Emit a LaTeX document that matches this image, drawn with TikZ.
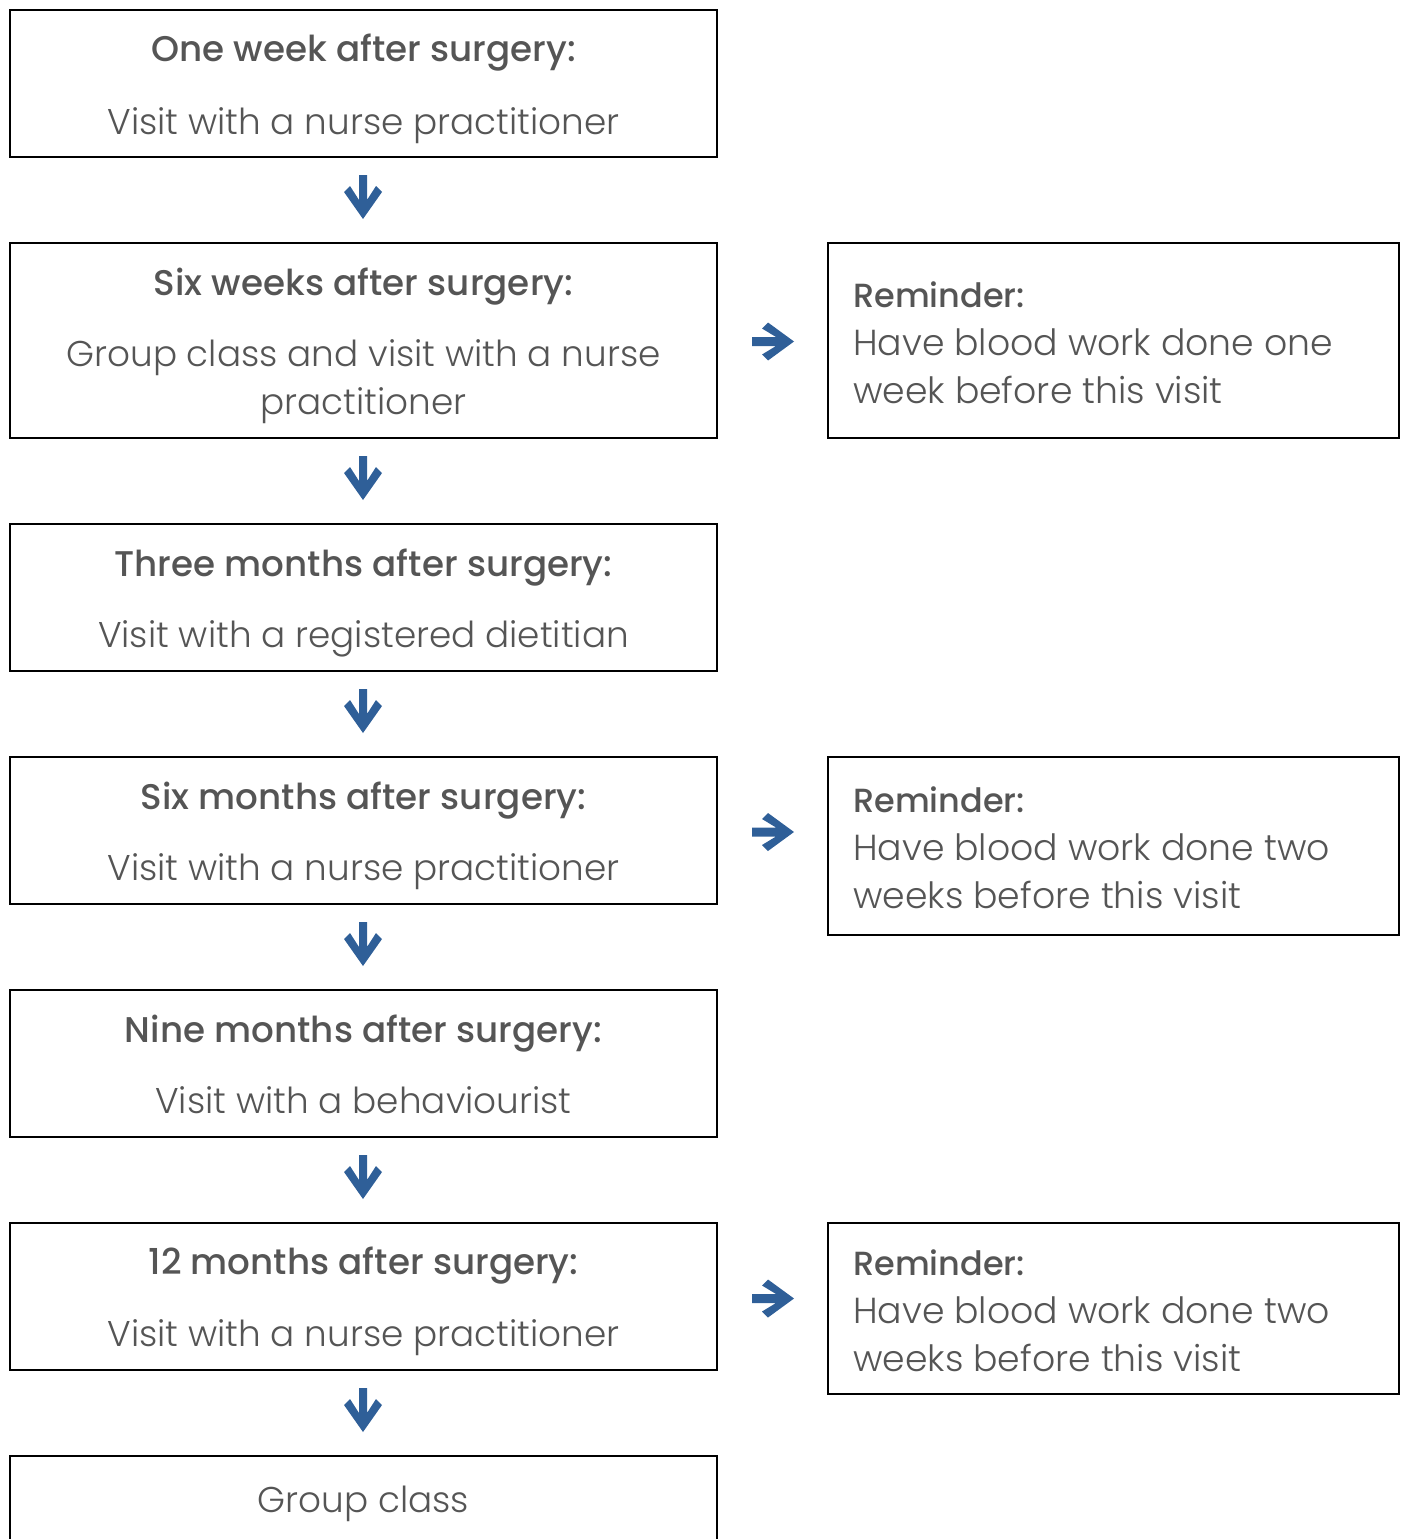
\documentclass[tikz,border=0pt]{standalone}
\usepackage{fontspec}
\setmainfont{Poppins Light}[BoldFont=Poppins Medium]
\definecolor{txt}{HTML}{555555}
\definecolor{arr}{HTML}{2F5F98}
\begin{document}
\begin{tikzpicture}[x=1pt,y=-1pt,
  box/.style={draw=black,line width=1.6pt},
  ttl/.style={anchor=base,text=txt,font=\fontsize{35.7}{42}\selectfont\bfseries,inner sep=0pt},
  sub/.style={anchor=base,text=txt,font=\fontsize{35.8}{42}\selectfont,inner sep=0pt},
  rtl/.style={anchor=base west,text=txt,font=\fontsize{33.5}{40}\selectfont\bfseries,inner sep=0pt},
  rsub/.style={anchor=base west,text=txt,font=\fontsize{36.2}{44}\selectfont,inner sep=0pt},
  arrfill/.style={fill=arr,draw=none}]
\useasboundingbox (0,0) rectangle (1405,1539);
% left boxes
\draw[box] (10,10) rectangle (717,157);
\draw[box] (10,243) rectangle (717,438);
\draw[box] (10,524) rectangle (717,671);
\draw[box] (10,757) rectangle (717,904);
\draw[box] (10,990) rectangle (717,1137);
\draw[box] (10,1223) rectangle (717,1370);
\draw[box] (10,1545) -- (10,1456) -- (717,1456) -- (717,1545);
% right boxes
\draw[box] (828,243) rectangle (1399,438);
\draw[box] (828,757) rectangle (1399,935);
\draw[box] (828,1223) rectangle (1399,1394);
% texts
\node[ttl] (t1) at (363.5,61) {One week after surgery:};
\node[sub] (s1) at (363.5,134) {Visit with a nurse practitioner};
\node[ttl] (t2) at (363.5,295) {Six weeks after surgery:};
\node[sub] (s2a) at (363.5,366) {Group class and visit with a nurse};
\node[sub] (s2b) at (363.5,414) {practitioner};
\node[ttl] (t3) at (363.5,576) {Three months after surgery:};
\node[sub] (s3) at (363.5,647) {Visit with a registered dietitian};
\node[ttl] (t4) at (363.5,809) {Six months after surgery:};
\node[sub] (s4) at (363.5,880) {Visit with a nurse practitioner};
\node[ttl] (t5) at (363.5,1042) {Nine months after surgery:};
\node[sub] (s5) at (363.5,1113) {Visit with a behaviourist};
\node[ttl] (t6) at (363.5,1274) {12 months after surgery:};
\node[sub] (s6) at (363.5,1346) {Visit with a nurse practitioner};
\node[sub] (s7) at (363.5,1512) {Group class};
\node[rtl] (r1) at (853,307) {Reminder:};
\node[rsub] (r1a) at (853,355) {Have blood work done one};
\node[rsub] (r1b) at (853,403) {week before this visit};
\node[rtl] (r2) at (853,812) {Reminder:};
\node[rsub] (r2a) at (853,860) {Have blood work done two};
\node[rsub] (r2b) at (853,908) {weeks before this visit};
\node[rtl] (r3) at (853,1275) {Reminder:};
\node[rsub] (r3a) at (853,1323) {Have blood work done two};
\node[rsub] (r3b) at (853,1371) {weeks before this visit};
% down arrows
\foreach \y in {175,456,689,922,1155,1388}{
  \fill[arrfill] (359,\y) -- (367,\y) -- (367,\y+25) -- (376,\y+11) -- (382,\y+17) -- (363,\y+44) -- (344,\y+17) -- (350,\y+11) -- (359,\y+25) -- cycle;
}
% right arrows
\foreach \y in {341.5,832,1298.5}{
  \fill[arrfill] (752,\y-4.5) -- (776,\y-4.5) -- (762,\y-13) -- (768,\y-19) -- (794,\y) -- (768,\y+19) -- (762,\y+13) -- (776,\y+4.5) -- (752,\y+4.5) -- cycle;
}
\end{tikzpicture}
\end{document}
